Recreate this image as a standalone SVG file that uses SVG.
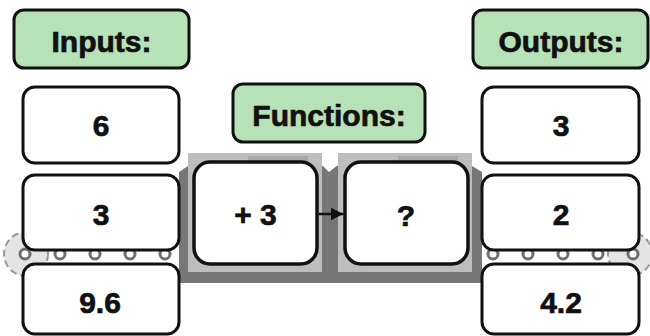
<svg xmlns="http://www.w3.org/2000/svg" width="650" height="336" viewBox="0 0 650 336">
<style>
.hdr{fill:#b7e1b7;stroke:#111;stroke-width:3}
.val{fill:#fff;stroke:#111;stroke-width:3}
.fn{fill:#fff;stroke:#111;stroke-width:3.5}
text{font-family:"Liberation Sans",Arial,sans-serif;font-weight:bold;font-size:30px;fill:#111;stroke:#111;stroke-width:0.7;text-anchor:middle}
.roller{fill:#fff;stroke:#6e6e6e;stroke-width:3}
.wheel{fill:#e4e4e4;stroke:#9a9a9a;stroke-width:2;stroke-dasharray:7 4}
</style>
<defs>
<marker id="ah2" viewBox="0 0 12 12" refX="12" refY="6" markerWidth="13" markerHeight="13" markerUnits="userSpaceOnUse" orient="auto">
<path d="M0,0 L12,6 L0,12 z" fill="#111"/>
</marker>
</defs>
<rect width="650" height="336" fill="#fff"/>
<g id="belt">
<circle class="wheel" cx="26" cy="254" r="22"/>
<circle class="wheel" cx="630" cy="254" r="22"/>
<circle class="roller" cx="25" cy="254" r="5"/>
<circle class="roller" cx="60" cy="254" r="5"/>
<circle class="roller" cx="95" cy="254" r="5"/>
<circle class="roller" cx="130" cy="254" r="5"/>
<circle class="roller" cx="165" cy="254" r="5"/>
<circle class="roller" cx="493" cy="254" r="5"/>
<circle class="roller" cx="528" cy="254" r="5"/>
<circle class="roller" cx="563" cy="254" r="5"/>
<circle class="roller" cx="598" cy="254" r="5"/>
<circle class="roller" cx="633" cy="254" r="5"/>
</g>
<g id="machine">
<path d="M179,172 L188,166 L472,166 L482,172 L482,283 L179,283 z" fill="#777"/>
<rect x="188" y="153" width="134" height="119" fill="#bdbdbd"/>
<rect x="338" y="153" width="134" height="119" fill="#bdbdbd"/>
<rect x="248" y="156" width="60" height="5" fill="#a9a9a9"/>
<rect x="398" y="156" width="60" height="5" fill="#a9a9a9"/>
<path d="M322,153 L338,153 L338,165 L329,172 L322,165 z" fill="#fff"/>
</g>
<g id="inputs-label"><rect class="hdr" x="14" y="10" width="175" height="58" rx="10"/><text x="101.5" y="52">Inputs:</text></g>
<g id="functions-label"><rect class="hdr" x="233" y="84" width="192" height="58" rx="10"/><text x="329" y="126">Functions:</text></g>
<g id="outputs-label"><rect class="hdr" x="473" y="10" width="175" height="58" rx="10"/><text x="561" y="52">Outputs:</text></g>
<g id="in1"><rect class="val" x="23" y="87" width="156" height="76" rx="12"/><text x="101" y="136">6</text></g>
<g id="in2"><rect class="val" x="23" y="175" width="156" height="75" rx="12"/><text x="101" y="225">3</text></g>
<g id="in3"><rect class="val" x="23" y="264" width="156" height="70" rx="12"/><text x="100" y="313">9.6</text></g>
<g id="out1"><rect class="val" x="482" y="87" width="157" height="76" rx="12"/><text x="561" y="136">3</text></g>
<g id="out2"><rect class="val" x="482" y="175" width="157" height="75" rx="12"/><text x="561" y="225">2</text></g>
<g id="out3"><rect class="val" x="482" y="264" width="157" height="70" rx="12"/><text x="561" y="313">4.2</text></g>
<g id="fn1"><rect class="fn" x="194" y="162" width="123" height="102" rx="16"/><text x="255.5" y="225">+ 3</text></g>
<g id="fn2"><rect class="fn" x="345" y="162" width="123" height="102" rx="16"/><text x="406" y="226">?</text></g>
<g id="connectors">
<line x1="318.5" y1="214" x2="343.5" y2="214" stroke="#111" stroke-width="2.5" marker-end="url(#ah2)"/>
</g>
</svg>
